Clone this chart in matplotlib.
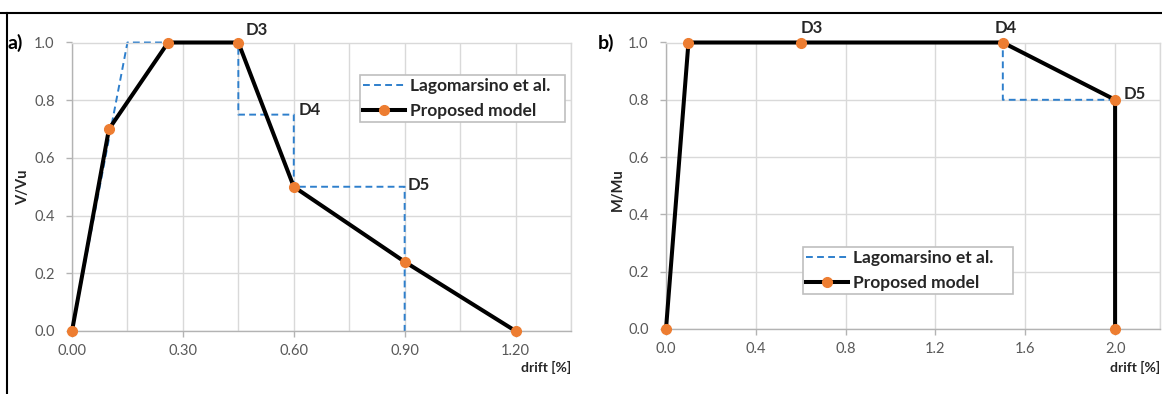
import matplotlib
matplotlib.use("Agg")
import matplotlib.pyplot as plt
from matplotlib.ticker import MultipleLocator, FormatStrFormatter
from matplotlib.lines import Line2D

plt.rcParams['font.family'] = ['Lato', 'DejaVu Sans']

# ---- data: panel a) shear ----
a_lago_x = [0.0, 0.15, 0.45, 0.45, 0.60, 0.60, 0.90, 0.90]
a_lago_y = [0.0, 1.0, 1.0, 0.75, 0.75, 0.50, 0.50, 0.0]
a_prop_x = [0.0, 0.10, 0.26, 0.45, 0.60, 0.90, 1.20]
a_prop_y = [0.0, 0.70, 1.0, 1.0, 0.50, 0.24, 0.0]

# ---- data: panel b) flexure ----
b_lago_x = [0.0, 0.10, 1.50, 1.50, 2.00, 2.00]
b_lago_y = [0.0, 1.0, 1.0, 0.80, 0.80, 0.0]
b_prop_x = [0.0, 0.10, 0.60, 1.50, 2.00, 2.00]
b_prop_y = [0.0, 1.0, 1.0, 1.0, 0.80, 0.0]

a_xticks = [0.0, 0.3, 0.6, 0.9, 1.2]
b_xticks = [0.0, 0.4, 0.8, 1.2, 1.6, 2.0]

a_labels = [("D3", 0.47, 1.045), ("D4", 0.612, 0.765), ("D5", 0.907, 0.505)]
b_labels = [("D3", 0.60, 1.05), ("D4", 1.465, 1.05), ("D5", 2.04, 0.82)]

legend_names = ['Lagomarsino et al.', 'Proposed model']

W, H = 1162, 394
fig = plt.figure(figsize=(W / 100, H / 100), dpi=100)

def px_axes(x0, x1, ytop, ybot):
    return fig.add_axes([x0 / W, (H - ybot) / H, (x1 - x0) / W, (ybot - ytop) / H])

ax1 = px_axes(72, 571, 42.5, 331)
ax2 = px_axes(666, 1160, 42.5, 329)

BLUE = '#2E7FCC'
ORANGE = '#ED7D31'
GRID = '#d9d9d9'
AXC = '#b3b3b3'
TICKC = '#595959'
TXT = '#262626'

def style(ax, xmax, xticks, xmin_grid, xfmt, ylabel, ylab_y, drift_y):
    ax.set_xlim(0, xmax)
    ax.set_ylim(0, 1.0)
    ax.set_xticks(xticks)
    ax.xaxis.set_minor_locator(MultipleLocator(xmin_grid))
    ax.xaxis.set_major_formatter(FormatStrFormatter(xfmt))
    ax.yaxis.set_major_locator(MultipleLocator(0.2))
    ax.yaxis.set_major_formatter(FormatStrFormatter('%.1f'))
    ax.grid(True, which='both', color=GRID, lw=1.0)
    ax.set_axisbelow(True)
    for k, s in ax.spines.items():
        s.set_color(AXC if k in ('left', 'bottom') else GRID)
        s.set_linewidth(1.0)
    ax.tick_params(which='major', colors=AXC, labelcolor=TICKC, labelsize=10.5,
                   length=4, width=1)
    ax.tick_params(axis='x', which='major', pad=5.5)
    ax.tick_params(axis='y', which='major', pad=8.5)
    ax.tick_params(which='minor', length=0)
    ax.text(-0.098, ylab_y, ylabel, transform=ax.transAxes, rotation=90,
            fontsize=10.5, fontweight='bold', color=TXT, ha='center', va='center')
    ax.text(1.0, drift_y, 'drift [%]', transform=ax.transAxes, fontsize=10,
            fontweight='bold', color=TXT, ha='right', va='center')
    ax.patch.set_alpha(0)

style(ax1, 1.35, a_xticks, 0.15, '%.2f', 'V/Vu', 0.497, -0.128)
style(ax2, 2.2, b_xticks, 0.4, '%.1f', 'M/Mu', 0.485, -0.136)
ax2.xaxis.set_minor_locator(MultipleLocator(2.2))

for ax, lx, ly, px, py, labels in [(ax1, a_lago_x, a_lago_y, a_prop_x, a_prop_y, a_labels),
                                  (ax2, b_lago_x, b_lago_y, b_prop_x, b_prop_y, b_labels)]:
    ax.plot(lx, ly, color=BLUE, lw=1.4, ls=(0, (3.5, 2.2)), clip_on=False, zorder=2)
    ax.plot(px, py, color='black', lw=2.9, clip_on=False, zorder=3)
    ax.plot(px, py, ls='none', marker='o', ms=7, mfc=ORANGE, mec=ORANGE,
            clip_on=False, zorder=5)
    for t, x, y in labels:
        ax.text(x, y, t, fontsize=12, fontweight='bold', color=TXT,
                ha='left', va='center', clip_on=False)

handles = [Line2D([], [], color=BLUE, lw=1.4, ls=(0, (3.5, 2.2))),
           Line2D([], [], color='black', lw=2.9, marker='o', ms=7, mfc=ORANGE, mec=ORANGE)]

def add_legend(ax, x0, y0, x1, y1):
    leg = ax.legend(handles, legend_names,
                    bbox_to_anchor=(x0 / W, (H - y1) / H, (x1 - x0) / W, (y1 - y0) / H),
                    bbox_transform=fig.transFigure, loc='center', mode='expand',
                    fancybox=False, edgecolor='#bfbfbf', framealpha=1,
                    prop={'size': 12.5, 'weight': 'bold'}, handlelength=2.4,
                    handletextpad=0.3, borderpad=0.2, labelspacing=0.5,
                    borderaxespad=0)
    for t in leg.get_texts():
        t.set_color(TXT)
    leg.get_frame().set_linewidth(1.2)
    leg.set_zorder(10)

add_legend(ax1, 360, 70, 565, 127)
add_legend(ax2, 803, 243, 1013, 298)

fig.text(7 / W, (H - 43) / H, 'a)', fontsize=14, fontweight='bold', ha='left', va='center')
fig.text(598 / W, (H - 43) / H, 'b)', fontsize=14, fontweight='bold', ha='left', va='center')

# figure frame lines (top and left)
fig.add_artist(Line2D([0, 1], [(H - 12.5) / H] * 2, transform=fig.transFigure,
                      color='black', lw=1.5))
fig.add_artist(Line2D([6.5 / W] * 2, [0, (H - 12.5) / H], transform=fig.transFigure,
                      color='black', lw=1.5))

fig.savefig('out.png', dpi=100)
